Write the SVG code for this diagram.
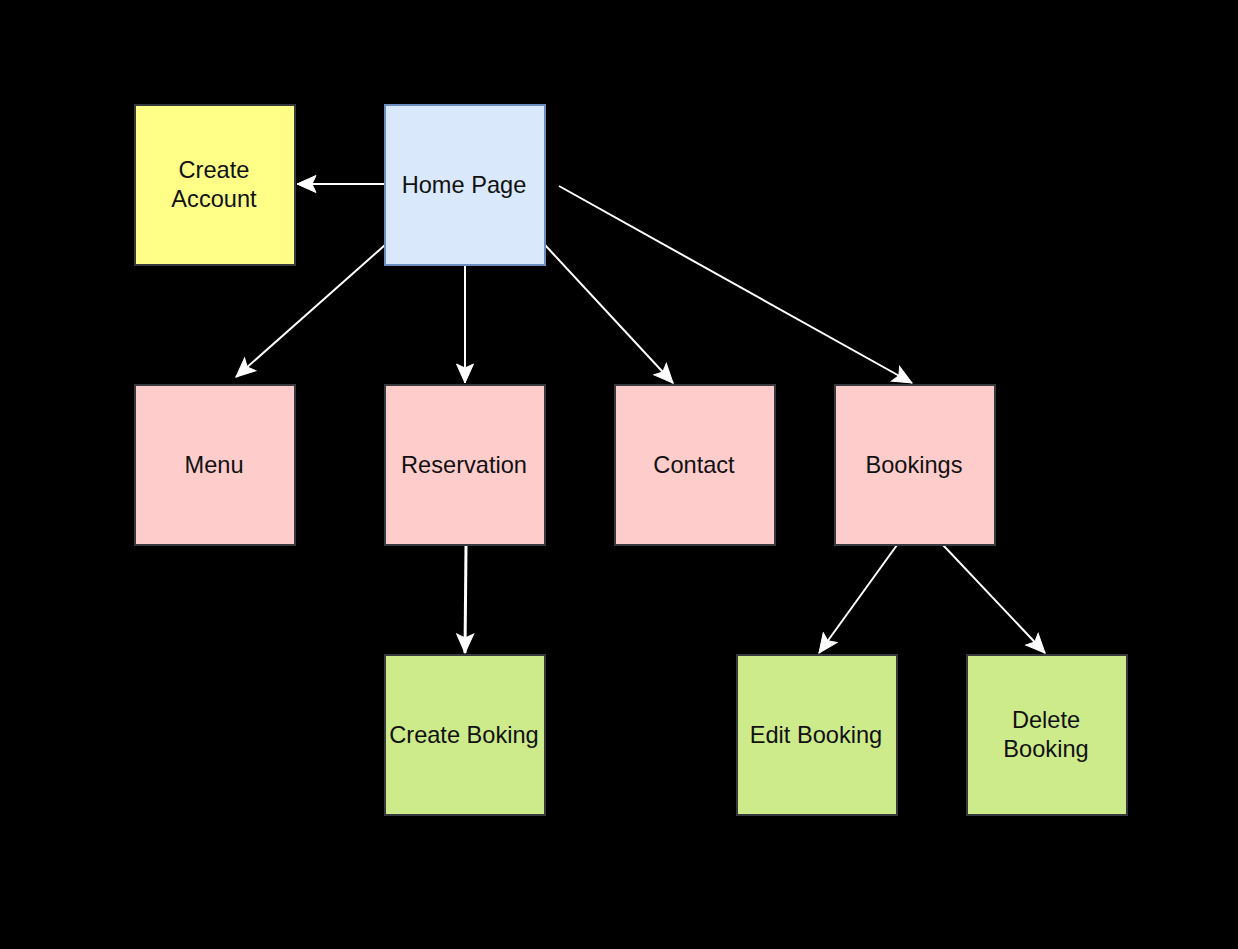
<svg xmlns="http://www.w3.org/2000/svg" width="1238" height="949" viewBox="0 0 1238 949">
<style>
.box{stroke-width:2}
.pink{fill:#ffcccc;stroke:#36393d}
.green{fill:#cdeb8b;stroke:#36393d}
.yellow{fill:#ffff88;stroke:#36393d}
.blue{fill:#dae8fc;stroke:#6c8ebf}
text{font-family:"Liberation Sans",Arial,sans-serif;font-size:23.6px;fill:#111;text-anchor:middle}
.edge{stroke:#fff;stroke-width:2;fill:none}
</style>
<defs>
<marker id="arr" markerUnits="userSpaceOnUse" markerWidth="22" markerHeight="20" viewBox="-20 -10 22 20" refX="0" refY="0" orient="auto">
<path d="M0,0 L-19,-8.5 L-15,0 L-19,8.5 Z" fill="#fff" stroke="#fff" stroke-width="1" stroke-linejoin="miter"/>
</marker>
</defs>
<rect width="1238" height="949" fill="#000"/>
<g id="connectors">
<line class="edge" x1="385" y1="184" x2="297" y2="184" marker-end="url(#arr)"/>
<line class="edge" x1="385" y1="245" x2="236" y2="377" marker-end="url(#arr)"/>
<line class="edge" x1="465" y1="265" x2="465" y2="383" marker-end="url(#arr)"/>
<line class="edge" x1="545" y1="245" x2="673" y2="383" marker-end="url(#arr)"/>
<line class="edge" x1="559" y1="186" x2="912" y2="383" marker-end="url(#arr)"/>
<line class="edge" x1="466" y1="546" x2="465" y2="653" style="stroke-width:3" marker-end="url(#arr)"/>
<line class="edge" x1="897" y1="545" x2="819" y2="653" marker-end="url(#arr)"/>
<line class="edge" x1="943" y1="545" x2="1045" y2="653" marker-end="url(#arr)"/>
</g>
<g id="create-account"><rect class="box yellow" x="135" y="105" width="160" height="160"/><text x="214" y="178">Create</text><text x="214" y="207">Account</text></g>
<g id="home-page"><rect class="box blue" x="385" y="105" width="160" height="160"/><text x="464" y="193">Home Page</text></g>
<g id="menu"><rect class="box pink" x="135" y="385" width="160" height="160"/><text x="214" y="473">Menu</text></g>
<g id="reservation"><rect class="box pink" x="385" y="385" width="160" height="160"/><text x="464" y="473">Reservation</text></g>
<g id="contact"><rect class="box pink" x="615" y="385" width="160" height="160"/><text x="694" y="473">Contact</text></g>
<g id="bookings"><rect class="box pink" x="835" y="385" width="160" height="160"/><text x="914" y="473">Bookings</text></g>
<g id="create-boking"><rect class="box green" x="385" y="655" width="160" height="160"/><text x="464" y="743">Create Boking</text></g>
<g id="edit-booking"><rect class="box green" x="737" y="655" width="160" height="160"/><text x="816" y="743">Edit Booking</text></g>
<g id="delete-booking"><rect class="box green" x="967" y="655" width="160" height="160"/><text x="1046" y="728">Delete</text><text x="1046" y="757">Booking</text></g>
</svg>
